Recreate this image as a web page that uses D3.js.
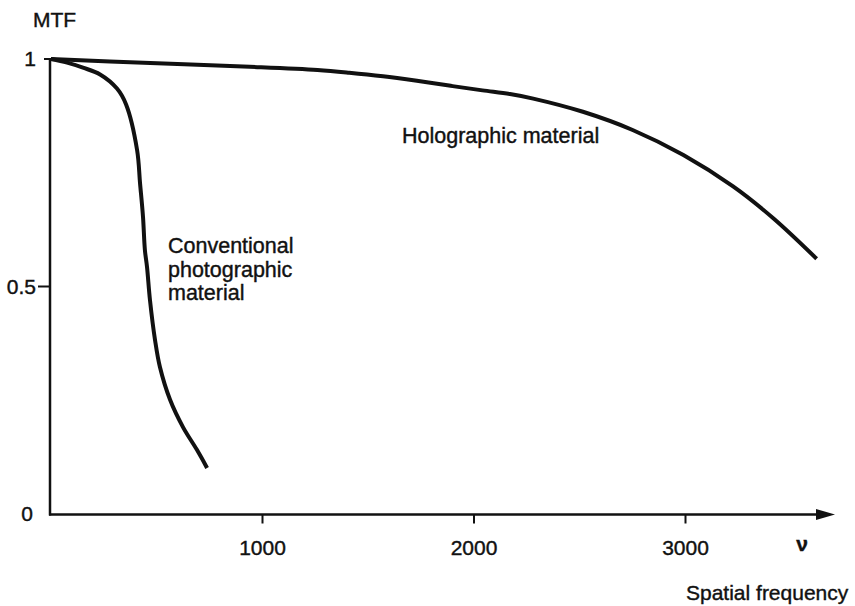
<!DOCTYPE html>
<html>
<head>
<meta charset="utf-8">
<script src="https://cdn.jsdelivr.net/npm/d3@7"></script>
<style>
  html, body { margin: 0; padding: 0; background: #fff; }
  svg text { font-family: "Liberation Sans", Arial, Helvetica, sans-serif; fill: #111; stroke: #111; stroke-width: 0.4px; }
</style>
</head>
<body>
<svg id="chart" width="855" height="606"></svg>
<script>
// Modulation transfer function vs spatial frequency (lines/mm)
const holoFreq = [0, 470, 940, 1260, 1410, 1570, 1730, 1890, 2040, 2170, 2280, 2515, 2750, 2990, 3225, 3415, 3620];
const holoMTF  = [1.0, 0.991, 0.983, 0.976, 0.970, 0.962, 0.952, 0.941, 0.931, 0.923, 0.913, 0.884, 0.844, 0.789, 0.720, 0.650, 0.561];

const convFreq = [0, 76, 151, 232, 312, 355, 407, 421, 435, 444, 454, 468, 492, 515, 563, 624, 690, 738];
const convMTF  = [1.0, 0.992, 0.981, 0.966, 0.935, 0.900, 0.800, 0.727, 0.653, 0.580, 0.543, 0.470, 0.382, 0.323, 0.251, 0.191, 0.141, 0.101];

const xTicks = [1000, 2000, 3000];
const yTicks = [1, 0.5];
const yLabels = ["1", "0.5", "0"];
const yLabelValues = [1, 0.5, 0];

const svg = d3.select("#chart");
const x = d3.scaleLinear().domain([0, 1000]).range([51, 262.5]);
const y = d3.scaleLinear().domain([0, 1]).range([514, 59]);

const ink = "#111";

// y axis (no arrow)
svg.append("line")
  .attr("x1", 50).attr("x2", 50)
  .attr("y1", y(1) - 1).attr("y2", y(0) + 1.5)
  .attr("stroke", ink).attr("stroke-width", 2.5);

// y ticks drawn to the left
const yTickLen = {1: 6, 0.5: 12};
svg.selectAll(".ytick").data(yTicks).join("line")
  .attr("x1", d => 50 - yTickLen[d]).attr("x2", 50)
  .attr("y1", d => y(d)).attr("y2", d => y(d))
  .attr("stroke", ink).attr("stroke-width", 2);

svg.selectAll(".ylab").data(yLabelValues).join("text")
  .attr("x", d => d === 0 ? 33 : 36)
  .attr("y", d => y(d) + 7)
  .attr("text-anchor", "end")
  .attr("font-size", 21)
  .text((d, i) => yLabels[i]);

svg.append("text").attr("x", 33).attr("y", 27).attr("font-size", 21).text("MTF");

// x axis with arrow
const axisY = y(0) + 0.5;
svg.append("line")
  .attr("x1", 49).attr("x2", 820)
  .attr("y1", axisY).attr("y2", axisY)
  .attr("stroke", ink).attr("stroke-width", 2.5);
svg.append("path")
  .attr("d", `M816,${axisY - 5.5} L835,${axisY} L816,${axisY + 5.5} Z`)
  .attr("fill", ink);

svg.selectAll(".xtick").data(xTicks).join("line")
  .attr("x1", d => x(d)).attr("x2", d => x(d))
  .attr("y1", axisY).attr("y2", axisY + 9)
  .attr("stroke", ink).attr("stroke-width", 2);

svg.selectAll(".xlab").data(xTicks).join("text")
  .attr("x", d => x(d)).attr("y", 555)
  .attr("text-anchor", "middle")
  .attr("font-size", 21)
  .text(d => d);

svg.append("text").attr("x", 802).attr("y", 551)
  .attr("text-anchor", "middle").attr("font-size", 21).attr("font-weight", "bold").text("ν");
svg.append("text").attr("x", 686).attr("y", 600)
  .attr("font-size", 21).text("Spatial frequency");

// curves
const line = d3.line().x(d => x(d[0])).y(d => y(d[1])).curve(d3.curveCatmullRom.alpha(0.5));

svg.append("path")
  .datum(holoFreq.map((f, i) => [f, holoMTF[i]]))
  .attr("d", line)
  .attr("fill", "none").attr("stroke", ink).attr("stroke-width", 4);

svg.append("path")
  .datum(convFreq.map((f, i) => [f, convMTF[i]]))
  .attr("d", line)
  .attr("fill", "none").attr("stroke", ink).attr("stroke-width", 4);

// curve labels
svg.append("text").attr("x", 402).attr("y", 143).attr("font-size", 21.5).text("Holographic material");

const convLines = ["Conventional", "photographic", "material"];
svg.append("text").attr("font-size", 21.5)
  .selectAll("tspan").data(convLines).join("tspan")
  .attr("x", 168).attr("y", (d, i) => 253 + i * 23.5)
  .text(d => d);
</script>
</body>
</html>
